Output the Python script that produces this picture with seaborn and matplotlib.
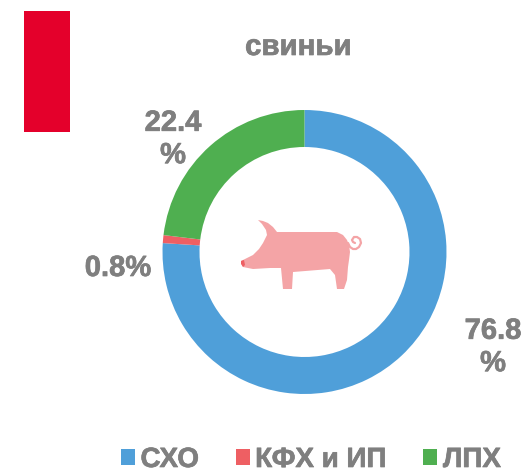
import matplotlib
matplotlib.use('Agg')
import matplotlib.pyplot as plt
import matplotlib.patheffects as pe
from matplotlib.patches import Polygon, Rectangle
import seaborn as sns

labels = ['СХО', 'КФХ и ИП', 'ЛПХ']
# доли дуг как на картинке (подписи немного расходятся с дугами)
arc_shares = [76.0, 0.9, 23.1]
value_labels = ['76.8\n%', '0.8%', '22.4\n%']
colors = ['#4F9FD9', '#EE5F63', '#4FAF50']
title = 'свиньи'

sns.set_theme(style='white')
plt.rcParams['font.family'] = ['Liberation Sans', 'DejaVu Sans']
grey = '#7F7F7F'
bold = [pe.withStroke(linewidth=0.5, foreground=grey)]
W, H = 523, 472

fig = plt.figure(figsize=(W / 100, H / 100), dpi=100)

# оверлей в пикселях картинки
bg = fig.add_axes([0, 0, 1, 1])
bg.set_xlim(0, W)
bg.set_ylim(H, 0)
bg.axis('off')

# бублик: центр (304, 252), внешний радиус 142
ax = fig.add_axes([(304.5 - 150) / W, 1 - (252 + 150) / H, 300 / W, 300 / H])
ax.patch.set_alpha(0)
ax.pie(arc_shares, colors=colors, startangle=90, counterclock=False, radius=142, center=(0, 0),
       wedgeprops=dict(width=37, edgecolor='none'), frame=True)
ax.set_xlim(-150, 150)
ax.set_ylim(-150, 150)
ax.set_aspect('equal')
ax.axis('off')

# красная плашка
bg.add_patch(Rectangle((24, 11), 46, 121, color='#E4002B', lw=0))

bg.text(298, 47, title, ha='center', va='center', fontsize=21.2, fontweight='bold', color=grey,
        path_effects=bold)

label_pos = [(493, 347), (118, 268), (173, 139)]
for txt, (x, y) in zip(value_labels, label_pos):
    bg.text(x, y, txt, ha='center', va='center', fontsize=21, fontweight='bold', color=grey,
            linespacing=1.2, path_effects=bold)

# свинья
pig_fig = [(258, 220), (263, 221), (268, 223), (273, 227), (277, 232), (337, 232), (343, 235),
           (347, 240), (349, 245), (350, 252), (349, 260), (348, 267), (347, 280), (344, 289),
           (337, 289), (335, 275), (330, 269), (293, 272), (292, 289), (283, 289), (281, 268),
           (270, 268), (253, 269), (243, 267), (241, 261), (253, 255), (259, 249), (263, 243),
           (267, 235), (266, 230), (262, 224)]
bg.add_patch(Polygon(pig_fig, closed=True, color='#F4A4A6', lw=0, zorder=5))
bg.add_patch(Polygon([(241, 261), (244, 260), (245, 265), (243, 267), (241, 264)], closed=True,
                     color='#EE5F63', lw=0, zorder=6))
tail_x = [348, 350, 353, 356, 359, 361, 360, 357, 354, 352, 353, 355]
tail_y = [243, 247, 249, 249, 247, 243, 239, 237, 237, 240, 242, 243]
bg.plot(tail_x, tail_y, color='#F4A4A6', lw=1.6, zorder=5)

handles = [Rectangle((0, 0), 1, 1, color=c, lw=0) for c in colors]
bg.legend(handles, labels, ncol=3, loc='center', bbox_to_anchor=(311 / W, 1 - 460 / H),
          bbox_transform=fig.transFigure, frameon=False,
          labelcolor=grey, prop=dict(weight='bold', size=20), handlelength=0.5, handleheight=0.5,
          handletextpad=0.2, columnspacing=1.33, borderpad=0)
for t in bg.get_legend().get_texts():
    t.set_path_effects(bold)

fig.savefig('out.png', dpi=100)
